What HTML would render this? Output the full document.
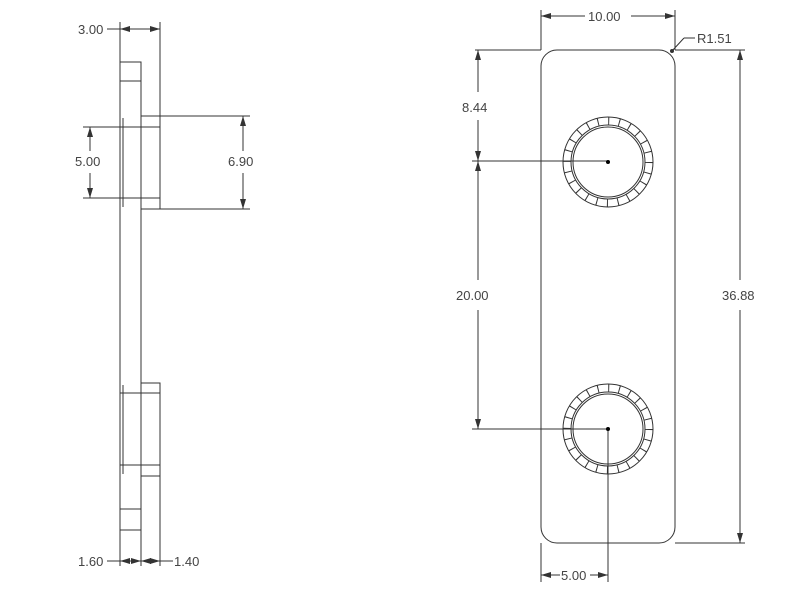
<!DOCTYPE html>
<html><head><style>
body{margin:0;background:#fff}
svg{display:block}
text{font-family:"Liberation Sans",sans-serif;font-size:13px;fill:#444}
</style></head><body>
<svg width="800" height="608" viewBox="0 0 800 608" xmlns="http://www.w3.org/2000/svg">
<defs>
<marker id="a" viewBox="0 0 10 6" refX="10" refY="3" markerWidth="10" markerHeight="6" orient="auto-start-reverse" markerUnits="userSpaceOnUse"><path d="M0,0L10,3L0,6z" fill="#333"/></marker>
<g id="hole">
<circle r="45" fill="none" stroke="#333" stroke-width="1"/>
<circle r="37" fill="none" stroke="#333" stroke-width="1"/>
<circle r="35" fill="none" stroke="#333" stroke-width="1"/>
<circle r="41" fill="none" stroke="#333" stroke-width="8" stroke-dasharray="1 9.73"/>
<circle r="2" fill="#000"/>
</g>
</defs>
<g stroke="#333" stroke-width="1" fill="none">
<!-- side view -->
<path d="M120,62H141V530H120Z"/>
<path d="M120,81H141M120,509H141"/>
<path d="M141,116H160V209H141M141,127H160M141,198H160"/>
<path d="M141,383H160V476H141M141,393H160M141,465H160"/>
<path d="M120,127H141M120,198H141M120,393H141M120,465H141"/>
<path d="M123,118V207M123,385V474"/>
<!-- left dims -->
<path d="M120,22V62M160,22V116"/>
<path d="M120,29H160" marker-start="url(#a)" marker-end="url(#a)"/>
<path d="M107,29H120"/>
<path d="M83,127H120M83,198H120"/>
<path d="M90,127V151M90,173V198" />
<path d="M90,151V127" marker-end="url(#a)"/><path d="M90,173V198" marker-end="url(#a)"/>
<path d="M160,116H250M160,209H250"/>
<path d="M243,151V116" marker-end="url(#a)"/><path d="M243,173V209" marker-end="url(#a)"/>
<path d="M120,530V566M141,530V566M160,476V566"/>
<path d="M120,561H141" marker-start="url(#a)" marker-end="url(#a)"/>
<path d="M141,561H160" marker-start="url(#a)" marker-end="url(#a)"/>
<path d="M107,561H120M160,561H173"/>
<!-- front view -->
<rect x="541" y="50" width="134" height="493" rx="16"/>
<path d="M541,10V50M675,10V50"/>
<path d="M541,16H585" marker-start="url(#a)"/><path d="M631,16H675" marker-end="url(#a)"/>
<path d="M684,38H695M684,38L672,51"/>
<path d="M475,50H541M675,50H745M675,543H745"/>
<path d="M478,92V50" marker-end="url(#a)"/><path d="M478,120V161" marker-end="url(#a)"/>
<path d="M478,280V161" marker-end="url(#a)"/><path d="M478,310V429" marker-end="url(#a)"/>
<path d="M472,161H608M472,429H608"/>
<path d="M740,280V50" marker-end="url(#a)"/><path d="M740,310V543" marker-end="url(#a)"/>
<path d="M541,543V582M608,429V582"/>
<path d="M541,575H560" marker-start="url(#a)"/><path d="M590,575H608" marker-end="url(#a)"/>
</g>
<use href="#hole" x="608" y="162"/>
<use href="#hole" x="608" y="429"/>
<circle cx="672" cy="51" r="2" fill="#333"/>
<text x="78" y="34">3.00</text>
<text x="75" y="166">5.00</text>
<text x="228" y="166">6.90</text>
<text x="78" y="566">1.60</text>
<text x="174" y="566">1.40</text>
<text x="588" y="21">10.00</text>
<text x="697" y="43">R1.51</text>
<text x="462" y="112">8.44</text>
<text x="456" y="300">20.00</text>
<text x="722" y="300">36.88</text>
<text x="561" y="580">5.00</text>
</svg>
</body></html>
